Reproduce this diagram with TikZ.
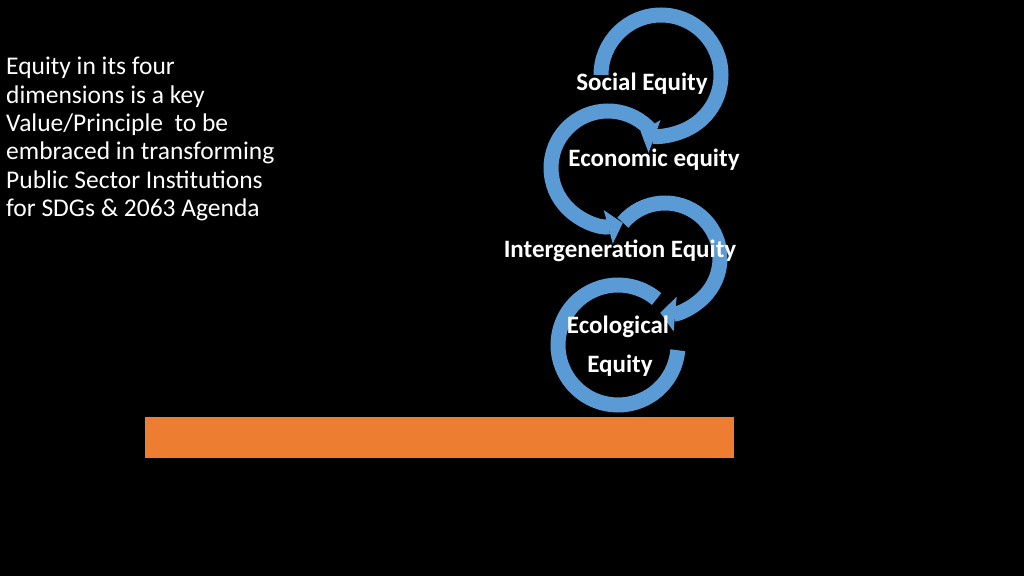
\documentclass[tikz,border=0pt]{standalone}
\usepackage{fontspec}
\setmainfont{Carlito}
\usetikzlibrary{arrows.meta}
\definecolor{arr}{RGB}{91,155,213}
\definecolor{bar}{RGB}{237,125,49}
\tikzset{
  ring/.style={draw=arr,line width=15pt,-{Triangle[length=15pt,width=34pt]}},
  ringend/.style={draw=arr,line width=15pt},
  lab/.style={text=white,font=\bfseries\fontsize{25}{30}\selectfont,inner sep=0pt}
}
\begin{document}
\begin{tikzpicture}[x=1pt,y=1pt]
\fill[black] (0,0) rectangle (1024,576);
\useasboundingbox (0,0) rectangle (1024,576);
\node[text=white,anchor=north west,align=left,inner sep=0pt,font=\fontsize{25.5}{28.4}\selectfont] (txt) at (6,519)
 {Equity in its four\\dimensions is a key\\Value/Principle\ \ to be\\embraced in transforming\\Public Sector Institutions\\for SDGs \& 2063 Agenda};
\draw[ringend] (618,231) ++(50:60) arc (50:355:60);
\draw[ring] (665,318) ++(140:55) arc (140:-95:55);
\draw[ring] (608,408) ++(40:57) arc (40:285:57);
\draw[ring] (661,501) ++(180:60) arc (180:-110:60);
\fill[bar] (145,118) rectangle (734,159);
\node[lab] (s) at (642,492) {Social Equity};
\node[lab] (e) at (654,416) {Economic equity};
\node[lab] (i) at (620,325) {Intergeneration Equity};
\node[lab] (c) at (618,249) {Ecological};
\node[lab] (q) at (620,210) {Equity};
\end{tikzpicture}
\end{document}
